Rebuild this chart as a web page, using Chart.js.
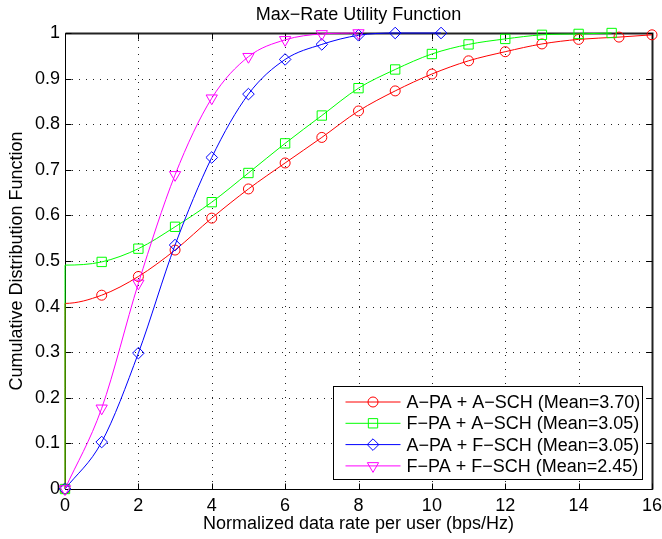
<!DOCTYPE html>
<html><head><meta charset="utf-8">
<script src="https://cdn.jsdelivr.net/npm/chart.js@4/dist/chart.umd.min.js"></script>
<style>html,body{margin:0;padding:0;background:#fff}canvas{display:block}</style>
</head><body>
<canvas id="c" width="662" height="539"></canvas>
<script>
const chartTitle = 'Max\u2212Rate Utility Function';
const xAxisTitle = 'Normalized data rate per user (bps/Hz)';
const yAxisTitle = 'Cumulative Distribution Function';
const seriesLabels = [
  'A\u2212PA + A\u2212SCH (Mean=3.70)',
  'F\u2212PA + A\u2212SCH (Mean=3.05)',
  'A\u2212PA + F\u2212SCH (Mean=3.05)',
  'F\u2212PA + F\u2212SCH (Mean=2.45)'
];
const xTickLabels = ['0','2','4','6','8','10','12','14','16'];
const xTickValues = [0,2,4,6,8,10,12,14,16];
const yTickLabels = ['0','0.1','0.2','0.3','0.4','0.5','0.6','0.7','0.8','0.9','1'];
const yTickValues = [0,0.1,0.2,0.3,0.4,0.5,0.6,0.7,0.8,0.9,1];

// A-PA + A-SCH (red)
const redX = [0,0,1,2,3,4,5,6,7,8,9,10,11,12,13,14,15.1,16];
const redY = [0,0.407,0.425,0.466,0.524,0.594,0.658,0.715,0.771,0.829,0.873,0.910,0.939,0.959,0.976,0.986,0.991,0.996];
// F-PA + A-SCH (green)
const greenX = [0,0,1,2,3,4,5,6,7,8,9,10,11,12,13,14,14.9];
const greenY = [0,0.491,0.498,0.527,0.575,0.629,0.693,0.758,0.819,0.879,0.920,0.954,0.975,0.987,0.996,0.998,1.0];
// A-PA + F-SCH (blue)
const blueX = [0,1,2,3,4,5,6,7,8,9,10.25];
const blueY = [0,0.103,0.298,0.535,0.727,0.866,0.942,0.975,0.995,1.0,1.0];
// F-PA + F-SCH (magenta)
const magentaX = [0,1,2,3,4,5,6,7,8];
const magentaY = [0,0.177,0.451,0.689,0.857,0.948,0.985,0.998,1.0];

const FONT = "'Liberation Sans', Arial, Helvetica, sans-serif";
const pts = (xs, ys) => xs.map((x, i) => ({x: x, y: ys[i]}));

const styles = [
  {color:'#ff0000', pointStyle:'circle', radius:5, rotation:0, jump:true},
  {color:'#00ff00', pointStyle:'rect', radius:6.6, rotation:0, jump:true},
  {color:'#0000ff', pointStyle:'rectRot', radius:5.8, rotation:0, jump:false},
  {color:'#ff00ff', pointStyle:'triangle', radius:6.5, rotation:180, jump:false}
];
const seriesData = [pts(redX, redY), pts(greenX, greenY), pts(blueX, blueY), pts(magentaX, magentaY)];

const datasets = seriesData.map((d, i) => {
  const s = styles[i];
  return {
    label: seriesLabels[i],
    data: d,
    borderColor: s.color,
    borderWidth: 1,
    pointStyle: s.pointStyle,
    pointRotation: s.rotation,
    pointRadius: ctx => (s.jump && ctx.index === 1) ? 0 : s.radius,
    pointBorderWidth: 1,
    pointBorderColor: s.color,
    pointBackgroundColor: 'rgba(0,0,0,0)',
    cubicInterpolationMode: 'monotone',
    fill: false,
    clip: false,
    order: 3 - i
  };
});

const matlabAxes = {
  id: 'matlabAxes',
  beforeDraw(chart) {
    const ctx = chart.ctx;
    ctx.save();
    ctx.fillStyle = '#ffffff';
    ctx.fillRect(0, 0, chart.width, chart.height);
    ctx.restore();
  },
  beforeDatasetsDraw(chart) {
    const {ctx, chartArea: a, scales: {x, y}} = chart;
    ctx.save();
    ctx.strokeStyle = '#222';
    ctx.lineWidth = 1;
    ctx.setLineDash([1, 6]);
    xTickValues.forEach(v => {
      if (v === x.min || v === x.max) return;
      const px = Math.round(x.getPixelForValue(v)) + 0.5;
      ctx.beginPath(); ctx.moveTo(px, a.bottom); ctx.lineTo(px, a.top); ctx.stroke();
    });
    yTickValues.forEach(v => {
      if (v === y.min || v === y.max) return;
      const py = Math.round(y.getPixelForValue(v)) + 0.5;
      ctx.beginPath(); ctx.moveTo(a.left, py); ctx.lineTo(a.right, py); ctx.stroke();
    });
    ctx.setLineDash([]);
    const L = Math.round(a.left) + 0.5, R = Math.round(a.right) + 0.5;
    const T = Math.round(a.top) + 0.5, B = Math.round(a.bottom) + 0.5;
    const tl = 6;
    ctx.strokeStyle = '#000';
    ctx.lineWidth = 1;
    ctx.beginPath();
    ctx.moveTo(L, T); ctx.lineTo(L, B); ctx.lineTo(R, B);
    ctx.stroke();
    ctx.strokeStyle = '#222';
    ctx.lineWidth = 2;
    ctx.beginPath();
    ctx.moveTo(L, T); ctx.lineTo(R, T); ctx.lineTo(R, B);
    ctx.stroke();
    ctx.lineWidth = 1;
    ctx.strokeStyle = '#000';
    xTickValues.forEach(v => {
      const px = Math.round(x.getPixelForValue(v)) + 0.5;
      ctx.beginPath();
      ctx.moveTo(px, B); ctx.lineTo(px, B - tl);
      ctx.moveTo(px, T); ctx.lineTo(px, T + tl);
      ctx.stroke();
    });
    yTickValues.forEach(v => {
      const py = Math.round(y.getPixelForValue(v)) + 0.5;
      ctx.beginPath();
      ctx.moveTo(L, py); ctx.lineTo(L + tl, py);
      ctx.moveTo(R, py); ctx.lineTo(R - tl, py);
      ctx.stroke();
    });
    ctx.restore();
  },
  afterDraw(chart) {
    const {ctx, chartArea: a} = chart;
    ctx.save();
    // title
    ctx.fillStyle = '#000';
    ctx.font = '18px ' + FONT;
    ctx.textAlign = 'center';
    ctx.textBaseline = 'alphabetic';
    ctx.fillText(chartTitle, (a.left + a.right) / 2, a.top - 13.5);
    // legend
    const w = 309, h = 93;
    const bx = Math.round(a.right - 10 - w) + 0.5;
    const by = Math.round(a.bottom - 10 - h) + 0.5;
    ctx.fillStyle = '#fff';
    ctx.fillRect(bx, by, w, h);
    ctx.strokeStyle = '#000';
    ctx.lineWidth = 1;
    ctx.strokeRect(bx, by, w, h);
    chart.data.datasets.forEach((ds, i) => {
      const s = styles[i];
      const cy = by + 15.5 + i * 21.3;
      ctx.strokeStyle = s.color;
      ctx.lineWidth = 1;
      ctx.beginPath();
      ctx.moveTo(bx + 12, cy); ctx.lineTo(bx + 67, cy);
      ctx.stroke();
      ctx.fillStyle = 'rgba(0,0,0,0)';
      Chart.helpers.drawPoint(ctx, {pointStyle: s.pointStyle, rotation: s.rotation, radius: s.radius, borderWidth: 1}, bx + 39.5, cy);
      ctx.fillStyle = '#000';
      ctx.font = '18px ' + FONT;
      ctx.textAlign = 'left';
      ctx.textBaseline = 'middle';
      ctx.fillText(ds.label, bx + 73, cy + 1);
    });
    ctx.restore();
  }
};

new Chart(document.getElementById('c'), {
  type: 'line',
  data: {datasets: datasets},
  options: {
    responsive: false,
    animation: false,
    devicePixelRatio: 1,
    layout: {padding: {top: 33, right: 10, left: 0, bottom: 0}},
    plugins: {legend: {display: false}, title: {display: false}, tooltip: {enabled: false}},
    scales: {
      x: {
        type: 'linear', min: 0, max: 16,
        afterBuildTicks: s => { s.ticks = xTickValues.map(v => ({value: v})); },
        ticks: {
          color: '#000', padding: 6, maxRotation: 0, autoSkip: false,
          font: {family: FONT, size: 18},
          callback: v => xTickLabels[xTickValues.indexOf(v)]
        },
        grid: {display: false, drawTicks: false},
        border: {display: false},
        title: {display: true, text: xAxisTitle, color: '#000', font: {family: FONT, size: 18}, padding: {top: 0, bottom: 4}},
        afterFit: s => { s.height = 50; s.paddingLeft = 0; s.paddingRight = 0; }
      },
      y: {
        type: 'linear', min: 0, max: 1,
        afterBuildTicks: s => { s.ticks = yTickValues.map(v => ({value: v})); },
        ticks: {
          color: '#000', padding: 5, autoSkip: false,
          font: {family: FONT, size: 18},
          callback: v => yTickLabels[yTickValues.indexOf(v)]
        },
        grid: {display: false, drawTicks: false},
        border: {display: false},
        title: {display: true, text: yAxisTitle, color: '#000', font: {family: FONT, size: 18}, padding: {top: 6, bottom: 0}},
        afterFit: s => { s.width = 65; s.paddingTop = 0; s.paddingBottom = 0; }
      }
    }
  },
  plugins: [matlabAxes]
});
</script>
</body></html>
